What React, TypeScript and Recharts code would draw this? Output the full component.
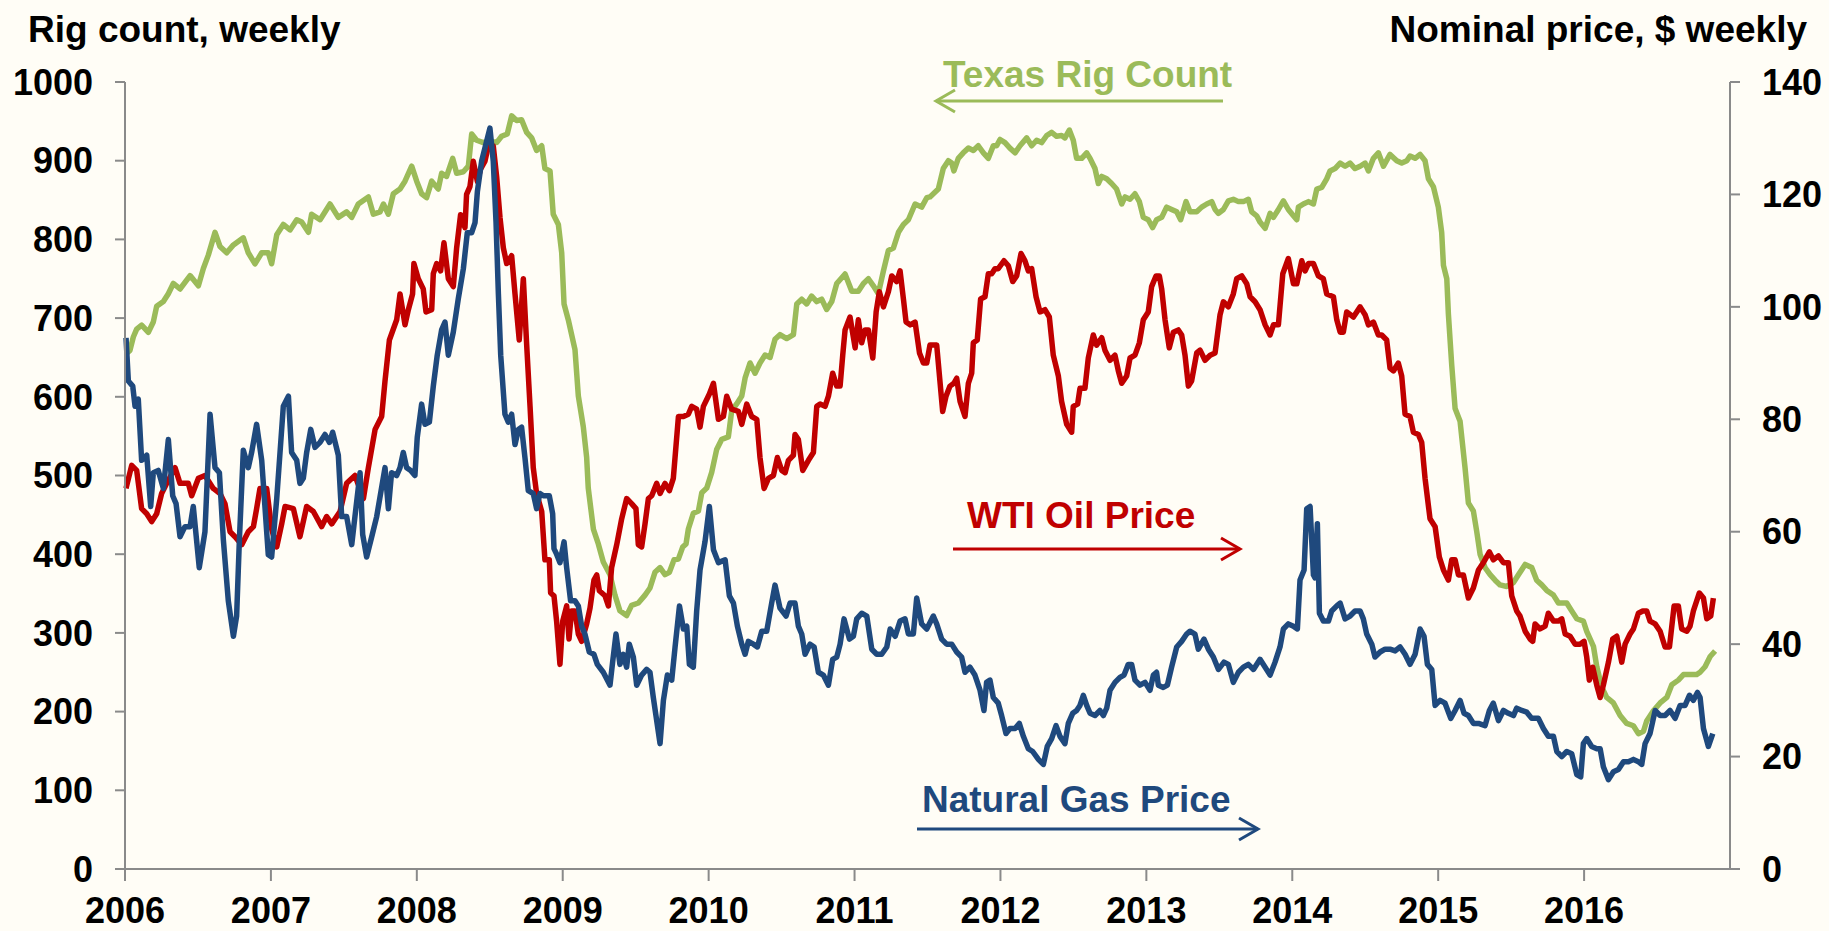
import React from "react";
import { LineChart, Line, XAxis, YAxis } from "recharts";

// ---- Data (decimal year, value) ----
// Texas rig count (left axis, rigs)
const texasRig: [number, number][] = [
  [2006.01, 655], [2006.034, 659], [2006.057, 676], [2006.08, 686], [2006.114, 691], [2006.16, 682], [2006.194, 695],
  [2006.217, 715], [2006.263, 721], [2006.297, 731], [2006.331, 744], [2006.377, 737], [2006.446, 754],
  [2006.503, 741], [2006.537, 763], [2006.571, 780], [2006.617, 809], [2006.651, 791], [2006.697, 783],
  [2006.743, 793], [2006.811, 802], [2006.845, 783], [2006.891, 769], [2006.937, 783], [2006.982, 783],
  [2007.005, 769], [2007.04, 806], [2007.085, 819], [2007.131, 812], [2007.177, 825], [2007.211, 822],
  [2007.257, 809], [2007.279, 832], [2007.337, 825], [2007.405, 845], [2007.462, 828], [2007.519, 835],
  [2007.554, 828], [2007.599, 845], [2007.668, 854], [2007.702, 832], [2007.748, 835], [2007.771, 845],
  [2007.805, 832], [2007.839, 858], [2007.885, 864], [2007.919, 874], [2007.965, 893], [2007.999, 874],
  [2008.033, 858], [2008.067, 853], [2008.102, 874], [2008.147, 864], [2008.17, 884], [2008.204, 880],
  [2008.246, 903], [2008.273, 884], [2008.319, 886], [2008.353, 893], [2008.376, 934], [2008.41, 926],
  [2008.456, 923], [2008.501, 925], [2008.547, 923], [2008.581, 931], [2008.62, 934], [2008.65, 957],
  [2008.684, 951], [2008.718, 952], [2008.753, 936], [2008.787, 929], [2008.821, 913], [2008.856, 919],
  [2008.878, 890], [2008.913, 887], [2008.935, 832], [2008.97, 819], [2008.993, 783], [2009.009, 718],
  [2009.038, 698], [2009.084, 660], [2009.107, 601], [2009.141, 562], [2009.164, 523], [2009.175, 484],
  [2009.21, 432], [2009.244, 413], [2009.278, 390], [2009.324, 374], [2009.358, 348], [2009.392, 328],
  [2009.438, 322], [2009.472, 335], [2009.518, 338], [2009.564, 348], [2009.598, 357], [2009.632, 377],
  [2009.667, 383], [2009.701, 374], [2009.731, 377], [2009.763, 393], [2009.793, 394], [2009.822, 409],
  [2009.845, 413], [2009.861, 432], [2009.895, 452], [2009.93, 455], [2009.953, 478], [2009.987, 484],
  [2010.021, 504], [2010.055, 533], [2010.09, 546], [2010.135, 549], [2010.158, 582], [2010.192, 591],
  [2010.227, 601], [2010.25, 624], [2010.284, 643], [2010.318, 630], [2010.352, 643], [2010.387, 653],
  [2010.421, 650], [2010.455, 673], [2010.489, 679], [2010.535, 674], [2010.581, 679], [2010.604, 718],
  [2010.638, 724], [2010.672, 718], [2010.706, 728], [2010.741, 721], [2010.775, 724], [2010.809, 711],
  [2010.844, 721], [2010.878, 744], [2010.935, 756], [2010.981, 734], [2011.026, 734], [2011.061, 744],
  [2011.095, 750], [2011.129, 741], [2011.163, 731], [2011.198, 760], [2011.232, 786], [2011.266, 789],
  [2011.301, 809], [2011.335, 819], [2011.369, 825], [2011.415, 845], [2011.46, 841], [2011.495, 853],
  [2011.517, 854], [2011.574, 864], [2011.608, 890], [2011.643, 900], [2011.666, 897], [2011.681, 887],
  [2011.711, 903], [2011.745, 910], [2011.78, 916], [2011.814, 913], [2011.848, 919], [2011.883, 910],
  [2011.917, 903], [2011.951, 919], [2011.974, 919], [2011.997, 927], [2012.031, 923], [2012.065, 916],
  [2012.1, 910], [2012.134, 919], [2012.18, 929], [2012.214, 919], [2012.248, 926], [2012.282, 923],
  [2012.317, 932], [2012.351, 936], [2012.385, 931], [2012.419, 932], [2012.442, 929], [2012.472, 939],
  [2012.499, 926], [2012.522, 903], [2012.557, 903], [2012.591, 910], [2012.614, 903], [2012.648, 890],
  [2012.671, 871], [2012.694, 880], [2012.728, 877], [2012.762, 871], [2012.796, 864], [2012.831, 845],
  [2012.854, 854], [2012.888, 851], [2012.922, 858], [2012.952, 848], [2012.979, 828], [2013.013, 825],
  [2013.043, 815], [2013.07, 825], [2013.105, 828], [2013.139, 841], [2013.173, 838], [2013.208, 835],
  [2013.235, 825], [2013.272, 848], [2013.299, 835], [2013.345, 835], [2013.379, 841], [2013.414, 845],
  [2013.448, 848], [2013.471, 838], [2013.494, 833], [2013.528, 838], [2013.562, 849], [2013.596, 851],
  [2013.631, 848], [2013.665, 848], [2013.699, 851], [2013.722, 835], [2013.756, 830], [2013.779, 822],
  [2013.814, 814], [2013.848, 833], [2013.871, 828], [2013.905, 838], [2013.939, 849], [2013.973, 838],
  [2014.008, 830], [2014.031, 825], [2014.042, 841], [2014.076, 845], [2014.111, 848], [2014.145, 845],
  [2014.168, 864], [2014.202, 866], [2014.236, 877], [2014.259, 887], [2014.293, 890], [2014.328, 897],
  [2014.362, 893], [2014.396, 897], [2014.43, 890], [2014.465, 893], [2014.499, 897], [2014.522, 887],
  [2014.556, 903], [2014.59, 910], [2014.625, 893], [2014.67, 908], [2014.716, 900], [2014.75, 897],
  [2014.785, 900], [2014.807, 906], [2014.842, 903], [2014.876, 908], [2014.91, 900], [2014.933, 877],
  [2014.967, 867], [2015.001, 841], [2015.024, 809], [2015.036, 767], [2015.059, 750], [2015.07, 705],
  [2015.093, 640], [2015.116, 585], [2015.15, 569], [2015.184, 510], [2015.207, 465], [2015.241, 455],
  [2015.264, 429], [2015.287, 400], [2015.321, 383], [2015.356, 374], [2015.39, 367], [2015.424, 361],
  [2015.47, 359], [2015.516, 364], [2015.55, 374], [2015.596, 387], [2015.641, 383], [2015.675, 367],
  [2015.71, 361], [2015.744, 354], [2015.79, 348], [2015.824, 338], [2015.881, 338], [2015.915, 328],
  [2015.95, 318], [2015.995, 315], [2016.018, 302], [2016.064, 283], [2016.087, 257], [2016.121, 231],
  [2016.155, 218], [2016.201, 211], [2016.247, 195], [2016.292, 185], [2016.338, 182], [2016.372, 172],
  [2016.407, 175], [2016.429, 188], [2016.475, 201], [2016.521, 211], [2016.567, 218], [2016.601, 234],
  [2016.646, 240], [2016.681, 247], [2016.726, 247], [2016.772, 247], [2016.795, 250], [2016.829, 257],
  [2016.864, 270], [2016.898, 277],
];

// WTI oil price (right axis, $ per barrel)
const wtiOil: [number, number][] = [
  [2006.007, 67.7], [2006.046, 71.8], [2006.08, 70.9], [2006.114, 64.1], [2006.149, 63.2], [2006.183, 61.8],
  [2006.217, 63.2], [2006.251, 66.8], [2006.286, 68.6], [2006.343, 71.4], [2006.377, 68.6], [2006.434, 68.6],
  [2006.457, 66.4], [2006.503, 69.5], [2006.548, 70.0], [2006.605, 67.7], [2006.651, 66.8], [2006.685, 65.0],
  [2006.72, 60.0], [2006.754, 59.1], [2006.8, 57.7], [2006.845, 60.0], [2006.88, 60.9], [2006.902, 64.1],
  [2006.925, 67.7], [2006.971, 67.7], [2007.005, 60.5], [2007.04, 57.3], [2007.074, 61.4], [2007.097, 64.5],
  [2007.154, 64.1], [2007.199, 59.1], [2007.245, 64.5], [2007.291, 63.6], [2007.348, 60.9], [2007.382, 62.7],
  [2007.417, 61.4], [2007.474, 63.6], [2007.519, 68.6], [2007.576, 70.0], [2007.634, 65.9], [2007.668, 71.4],
  [2007.714, 78.2], [2007.759, 80.5], [2007.782, 86.8], [2007.812, 94.1], [2007.862, 97.7], [2007.885, 102.3],
  [2007.919, 96.8], [2007.942, 99.5], [2007.971, 102.3], [2007.98, 107.7], [2008.01, 105.0], [2008.044, 103.2],
  [2008.063, 99.1], [2008.102, 99.5], [2008.113, 105.9], [2008.136, 107.7], [2008.163, 106.4], [2008.186, 111.4],
  [2008.216, 105.0], [2008.25, 103.6], [2008.273, 110.5], [2008.3, 116.4], [2008.33, 114.1], [2008.341, 120.0],
  [2008.364, 121.4], [2008.387, 125.9], [2008.415, 122.3], [2008.437, 124.5], [2008.467, 125.9], [2008.49, 128.6],
  [2008.524, 128.6], [2008.547, 123.2], [2008.57, 115.9], [2008.593, 110.5], [2008.616, 107.7], [2008.65, 109.1],
  [2008.673, 102.3], [2008.702, 94.1], [2008.73, 105.0], [2008.753, 93.2], [2008.776, 82.3], [2008.798, 71.4],
  [2008.821, 66.8], [2008.856, 63.6], [2008.878, 55.0], [2008.908, 55.0], [2008.917, 49.1], [2008.94, 48.6],
  [2008.958, 44.1], [2008.981, 36.4], [2009.0, 44.1], [2009.027, 46.8], [2009.043, 40.9], [2009.061, 45.9],
  [2009.084, 45.9], [2009.107, 41.8], [2009.13, 40.5], [2009.164, 43.6], [2009.187, 46.4], [2009.214, 51.4],
  [2009.233, 52.3], [2009.251, 49.5], [2009.29, 48.6], [2009.313, 46.8], [2009.335, 53.6], [2009.37, 57.7],
  [2009.404, 62.3], [2009.438, 65.9], [2009.472, 65.0], [2009.502, 64.1], [2009.518, 57.7], [2009.541, 57.3],
  [2009.564, 61.4], [2009.587, 65.9], [2009.61, 66.4], [2009.644, 68.6], [2009.667, 66.8], [2009.701, 68.6],
  [2009.731, 67.3], [2009.758, 69.5], [2009.793, 80.5], [2009.827, 80.5], [2009.861, 80.9], [2009.884, 82.3],
  [2009.918, 81.8], [2009.941, 78.6], [2009.964, 82.3], [2010.005, 84.5], [2010.033, 86.4], [2010.067, 80.0],
  [2010.101, 80.5], [2010.124, 84.1], [2010.158, 81.8], [2010.204, 81.4], [2010.227, 79.1], [2010.261, 82.7],
  [2010.295, 80.5], [2010.33, 80.0], [2010.352, 73.2], [2010.38, 67.7], [2010.41, 69.5], [2010.444, 70.0],
  [2010.471, 73.2], [2010.501, 70.9], [2010.524, 70.5], [2010.547, 72.7], [2010.581, 73.6], [2010.592, 77.3],
  [2010.615, 76.4], [2010.645, 70.9], [2010.684, 72.7], [2010.718, 74.1], [2010.741, 82.3], [2010.764, 82.7],
  [2010.798, 82.3], [2010.821, 84.1], [2010.85, 88.2], [2010.878, 85.9], [2010.901, 85.9], [2010.919, 91.4],
  [2010.935, 95.9], [2010.969, 98.2], [2011.004, 92.7], [2011.026, 97.7], [2011.049, 93.6], [2011.072, 95.9],
  [2011.095, 95.9], [2011.125, 90.9], [2011.148, 99.1], [2011.17, 102.7], [2011.198, 100.0], [2011.232, 102.7],
  [2011.255, 105.5], [2011.289, 104.5], [2011.312, 106.4], [2011.335, 101.4], [2011.353, 97.3], [2011.381, 96.8],
  [2011.415, 97.3], [2011.445, 91.8], [2011.472, 90.0], [2011.495, 90.0], [2011.517, 93.2], [2011.563, 93.2],
  [2011.604, 81.4], [2011.627, 84.1], [2011.654, 85.9], [2011.681, 86.4], [2011.7, 87.3], [2011.723, 83.2],
  [2011.757, 80.5], [2011.78, 86.4], [2011.803, 88.2], [2011.814, 93.6], [2011.841, 94.1], [2011.864, 101.4],
  [2011.894, 101.8], [2011.917, 105.9], [2011.94, 105.9], [2011.963, 106.8], [2011.985, 106.8], [2012.024, 108.2],
  [2012.054, 107.3], [2012.084, 104.5], [2012.111, 105.5], [2012.141, 109.5], [2012.168, 108.2], [2012.191, 106.4],
  [2012.214, 106.8], [2012.244, 101.8], [2012.271, 99.1], [2012.305, 99.5], [2012.335, 98.2], [2012.362, 91.4],
  [2012.397, 87.7], [2012.419, 83.2], [2012.454, 79.1], [2012.488, 77.7], [2012.499, 82.3], [2012.529, 82.7],
  [2012.545, 85.5], [2012.579, 85.5], [2012.602, 90.9], [2012.636, 95.0], [2012.659, 93.2], [2012.694, 94.5],
  [2012.716, 92.3], [2012.751, 90.5], [2012.785, 91.4], [2012.808, 88.6], [2012.831, 86.4], [2012.865, 87.7],
  [2012.888, 90.9], [2012.922, 91.4], [2012.952, 93.6], [2012.979, 97.7], [2013.013, 99.1], [2013.036, 103.6],
  [2013.066, 105.5], [2013.089, 105.5], [2013.105, 103.2], [2013.128, 97.7], [2013.157, 92.7], [2013.185, 95.5],
  [2013.219, 95.9], [2013.242, 95.0], [2013.265, 91.4], [2013.288, 85.9], [2013.31, 86.8], [2013.345, 91.8],
  [2013.368, 92.3], [2013.402, 90.5], [2013.437, 91.4], [2013.471, 91.8], [2013.505, 98.6], [2013.528, 100.9],
  [2013.562, 100.0], [2013.596, 102.3], [2013.619, 105.0], [2013.654, 105.5], [2013.688, 104.1], [2013.711, 101.8],
  [2013.745, 100.9], [2013.779, 99.5], [2013.814, 96.8], [2013.848, 95.0], [2013.871, 96.8], [2013.905, 96.8],
  [2013.935, 105.9], [2013.973, 108.6], [2014.008, 104.1], [2014.031, 104.1], [2014.065, 108.2], [2014.088, 106.4],
  [2014.111, 107.7], [2014.145, 107.7], [2014.179, 105.5], [2014.213, 105.0], [2014.236, 102.3], [2014.282, 101.8],
  [2014.305, 97.7], [2014.328, 95.5], [2014.35, 95.5], [2014.373, 99.1], [2014.419, 98.2], [2014.465, 100.0],
  [2014.499, 98.6], [2014.522, 96.8], [2014.556, 97.3], [2014.59, 95.0], [2014.613, 95.0], [2014.647, 94.1],
  [2014.67, 89.1], [2014.693, 88.6], [2014.727, 90.0], [2014.75, 87.7], [2014.773, 80.9], [2014.807, 80.5],
  [2014.83, 77.7], [2014.864, 77.3], [2014.887, 75.9], [2014.91, 69.5], [2014.944, 62.3], [2014.979, 60.9],
  [2015.008, 55.5], [2015.036, 53.2], [2015.07, 51.4], [2015.093, 55.0], [2015.116, 55.0], [2015.139, 52.3],
  [2015.173, 52.3], [2015.207, 48.2], [2015.241, 50.0], [2015.276, 53.2], [2015.31, 54.5], [2015.351, 56.4],
  [2015.378, 55.0], [2015.413, 55.7], [2015.447, 54.5], [2015.481, 54.5], [2015.504, 48.6], [2015.538, 45.9],
  [2015.561, 45.0], [2015.596, 42.3], [2015.63, 40.9], [2015.648, 40.5], [2015.664, 43.6], [2015.698, 42.7],
  [2015.733, 43.2], [2015.755, 45.5], [2015.79, 44.1], [2015.824, 44.1], [2015.847, 44.5], [2015.87, 41.8],
  [2015.904, 41.4], [2015.938, 40.0], [2015.972, 40.0], [2016.0, 40.5], [2016.018, 37.7], [2016.036, 33.6],
  [2016.059, 35.9], [2016.087, 32.7], [2016.11, 30.5], [2016.132, 32.7], [2016.167, 36.8], [2016.196, 40.9],
  [2016.224, 41.4], [2016.258, 36.8], [2016.281, 40.0], [2016.315, 41.8], [2016.338, 42.7], [2016.372, 45.5],
  [2016.402, 45.9], [2016.429, 45.9], [2016.452, 44.1], [2016.487, 43.6], [2016.521, 42.3], [2016.555, 39.5],
  [2016.585, 39.5], [2016.617, 46.8], [2016.646, 46.8], [2016.669, 42.7], [2016.704, 42.3], [2016.726, 43.2],
  [2016.749, 45.9], [2016.79, 49.1], [2016.818, 48.2], [2016.841, 44.5], [2016.868, 45.0], [2016.886, 48.2],
];

// Natural gas price (right axis, plotted as $/MMBtu x 10)
const natGas: [number, number][] = [
  [2006.007, 94.5], [2006.023, 86.8], [2006.053, 85.9], [2006.069, 82.3], [2006.091, 83.6], [2006.114, 72.7],
  [2006.149, 73.6], [2006.176, 64.5], [2006.194, 70.5], [2006.228, 70.9], [2006.263, 67.7], [2006.297, 76.4],
  [2006.327, 66.4], [2006.35, 65.0], [2006.377, 59.1], [2006.411, 60.9], [2006.446, 60.9], [2006.468, 64.5],
  [2006.509, 53.6], [2006.548, 60.0], [2006.583, 80.9], [2006.617, 71.4], [2006.647, 70.5], [2006.674, 58.6],
  [2006.708, 47.7], [2006.743, 41.4], [2006.765, 45.0], [2006.784, 58.6], [2006.811, 74.5], [2006.845, 71.4],
  [2006.868, 74.1], [2006.902, 79.1], [2006.937, 72.7], [2006.982, 55.9], [2007.005, 55.5], [2007.04, 65.9],
  [2007.085, 82.3], [2007.12, 84.1], [2007.142, 74.1], [2007.177, 72.7], [2007.199, 68.6], [2007.222, 69.5],
  [2007.245, 74.1], [2007.273, 78.2], [2007.302, 75.0], [2007.337, 75.9], [2007.371, 77.3], [2007.401, 75.9],
  [2007.423, 77.7], [2007.462, 73.6], [2007.485, 62.7], [2007.519, 62.7], [2007.554, 57.7], [2007.576, 62.7],
  [2007.611, 70.5], [2007.629, 59.5], [2007.656, 55.5], [2007.691, 59.1], [2007.725, 62.7], [2007.782, 71.4],
  [2007.805, 64.1], [2007.827, 70.5], [2007.862, 70.0], [2007.885, 71.4], [2007.907, 74.1], [2007.93, 71.4],
  [2007.958, 70.9], [2007.987, 70.0], [2008.003, 76.8], [2008.033, 82.7], [2008.056, 79.1], [2008.086, 79.5],
  [2008.113, 85.9], [2008.14, 91.4], [2008.17, 95.9], [2008.193, 97.3], [2008.216, 91.4], [2008.25, 95.5],
  [2008.284, 101.4], [2008.319, 106.8], [2008.346, 113.2], [2008.376, 113.2], [2008.399, 115.0], [2008.415, 120.5],
  [2008.444, 125.9], [2008.479, 129.5], [2008.501, 131.8], [2008.524, 125.9], [2008.543, 115.0], [2008.559, 102.3],
  [2008.575, 91.4], [2008.604, 80.9], [2008.627, 79.5], [2008.65, 80.9], [2008.673, 75.5], [2008.696, 78.2],
  [2008.718, 78.6], [2008.741, 73.2], [2008.764, 67.3], [2008.798, 66.8], [2008.821, 64.1], [2008.844, 66.8],
  [2008.867, 66.4], [2008.908, 66.4], [2008.931, 63.2], [2008.94, 57.0], [2008.958, 56.0], [2008.981, 54.5],
  [2009.009, 58.2], [2009.027, 53.6], [2009.054, 47.7], [2009.084, 47.7], [2009.107, 46.8], [2009.13, 43.2],
  [2009.152, 41.8], [2009.182, 38.6], [2009.214, 38.2], [2009.237, 36.4], [2009.278, 35.0], [2009.324, 32.7],
  [2009.342, 36.8], [2009.365, 41.8], [2009.392, 36.4], [2009.415, 38.2], [2009.438, 35.9], [2009.456, 40.0],
  [2009.484, 37.7], [2009.507, 32.7], [2009.541, 34.5], [2009.575, 35.5], [2009.598, 35.0], [2009.621, 30.5],
  [2009.644, 26.4], [2009.667, 22.3], [2009.69, 30.0], [2009.717, 34.5], [2009.747, 33.6], [2009.77, 39.5],
  [2009.8, 46.8], [2009.827, 42.7], [2009.85, 43.2], [2009.868, 36.4], [2009.895, 35.9], [2009.918, 45.9],
  [2009.941, 53.2], [2009.975, 58.2], [2010.005, 64.5], [2010.033, 56.8], [2010.067, 54.5], [2010.113, 55.0],
  [2010.142, 48.6], [2010.17, 47.3], [2010.197, 43.2], [2010.227, 40.0], [2010.25, 38.2], [2010.272, 40.5],
  [2010.307, 40.0], [2010.334, 39.5], [2010.364, 42.3], [2010.398, 42.3], [2010.432, 47.3], [2010.455, 50.5],
  [2010.489, 46.4], [2010.531, 45.0], [2010.558, 47.3], [2010.592, 47.3], [2010.615, 43.2], [2010.638, 41.8],
  [2010.661, 38.2], [2010.695, 40.0], [2010.723, 39.5], [2010.752, 35.0], [2010.786, 34.5], [2010.821, 32.7],
  [2010.85, 37.3], [2010.878, 37.7], [2010.901, 40.0], [2010.928, 44.5], [2010.965, 40.9], [2010.992, 41.4],
  [2011.015, 44.5], [2011.049, 45.5], [2011.084, 45.0], [2011.118, 39.1], [2011.152, 38.2], [2011.186, 38.2],
  [2011.221, 39.5], [2011.244, 42.7], [2011.278, 41.4], [2011.312, 44.1], [2011.346, 44.5], [2011.369, 41.8],
  [2011.403, 41.8], [2011.426, 48.2], [2011.46, 43.6], [2011.495, 42.7], [2011.54, 45.0], [2011.563, 43.6],
  [2011.597, 40.9], [2011.631, 40.0], [2011.666, 40.0], [2011.7, 38.6], [2011.734, 37.7], [2011.757, 35.0],
  [2011.791, 35.9], [2011.825, 34.5], [2011.86, 31.8], [2011.887, 28.2], [2011.905, 33.2], [2011.928, 33.6],
  [2011.951, 30.5], [2011.985, 29.5], [2012.008, 27.3], [2012.038, 24.1], [2012.065, 25.0], [2012.1, 25.0],
  [2012.129, 25.9], [2012.157, 23.6], [2012.191, 21.4], [2012.221, 20.9], [2012.26, 19.5], [2012.294, 18.6],
  [2012.321, 21.8], [2012.351, 23.2], [2012.381, 25.5], [2012.408, 23.6], [2012.442, 22.3], [2012.465, 25.9],
  [2012.495, 27.7], [2012.522, 28.2], [2012.545, 29.1], [2012.568, 30.9], [2012.591, 29.1], [2012.614, 27.7],
  [2012.648, 27.3], [2012.682, 28.2], [2012.705, 27.3], [2012.728, 28.6], [2012.751, 31.8], [2012.785, 33.2],
  [2012.819, 34.1], [2012.847, 34.5], [2012.876, 36.4], [2012.899, 36.4], [2012.922, 33.6], [2012.956, 32.7],
  [2012.991, 33.2], [2013.025, 31.8], [2013.048, 34.5], [2013.07, 35.0], [2013.082, 32.7], [2013.116, 32.3],
  [2013.144, 32.7], [2013.173, 35.9], [2013.208, 39.5], [2013.242, 40.5], [2013.276, 41.8], [2013.299, 42.3],
  [2013.333, 41.8], [2013.356, 39.1], [2013.395, 40.9], [2013.425, 39.1], [2013.459, 37.7], [2013.494, 35.5],
  [2013.532, 36.8], [2013.562, 36.4], [2013.596, 33.2], [2013.631, 35.0], [2013.665, 35.9], [2013.699, 36.4],
  [2013.734, 35.5], [2013.779, 37.3], [2013.814, 35.9], [2013.848, 34.5], [2013.882, 36.8], [2013.916, 39.5],
  [2013.939, 42.7], [2013.973, 43.6], [2014.008, 43.2], [2014.035, 42.7], [2014.053, 51.4], [2014.081, 53.2],
  [2014.099, 64.1], [2014.122, 64.5], [2014.145, 52.3], [2014.156, 51.8], [2014.172, 61.4], [2014.186, 45.5],
  [2014.213, 44.1], [2014.248, 44.1], [2014.27, 45.9], [2014.305, 46.8], [2014.328, 47.3], [2014.362, 44.5],
  [2014.396, 45.0], [2014.43, 45.9], [2014.465, 45.9], [2014.487, 44.5], [2014.51, 41.8], [2014.545, 40.0],
  [2014.567, 37.7], [2014.602, 38.6], [2014.636, 39.1], [2014.67, 39.1], [2014.705, 38.8], [2014.739, 39.5],
  [2014.773, 38.2], [2014.807, 36.4], [2014.842, 38.2], [2014.876, 42.7], [2014.903, 41.4], [2014.926, 36.4],
  [2014.956, 35.5], [2014.979, 29.1], [2015.013, 30.0], [2015.047, 29.5], [2015.086, 26.8], [2015.116, 28.2],
  [2015.15, 30.0], [2015.177, 27.7], [2015.207, 27.3], [2015.241, 25.9], [2015.276, 25.9], [2015.321, 25.5],
  [2015.351, 28.2], [2015.378, 29.5], [2015.413, 26.4], [2015.447, 28.2], [2015.481, 27.7], [2015.516, 27.3],
  [2015.538, 28.6], [2015.573, 28.2], [2015.607, 27.9], [2015.641, 26.8], [2015.687, 26.8], [2015.721, 25.0],
  [2015.755, 23.6], [2015.79, 23.6], [2015.813, 20.9], [2015.847, 20.0], [2015.881, 20.9], [2015.915, 20.5],
  [2015.95, 16.8], [2015.977, 16.4], [2015.995, 22.3], [2016.018, 23.2], [2016.052, 21.8], [2016.087, 21.4],
  [2016.11, 21.4], [2016.132, 18.2], [2016.167, 15.9], [2016.201, 17.3], [2016.235, 17.7], [2016.27, 19.1],
  [2016.304, 19.1], [2016.338, 19.5], [2016.372, 19.1], [2016.395, 18.6], [2016.418, 22.3], [2016.452, 24.1],
  [2016.487, 28.2], [2016.521, 27.3], [2016.555, 27.3], [2016.589, 28.2], [2016.624, 26.8], [2016.658, 29.1],
  [2016.692, 29.1], [2016.722, 30.9], [2016.749, 30.0], [2016.777, 31.4], [2016.795, 30.5], [2016.818, 25.0],
  [2016.852, 21.8], [2016.882, 24.1],
];

const yearTicks = [2006, 2007, 2008, 2009, 2010, 2011, 2012, 2013, 2014, 2015, 2016];
const rigTicks = [0, 100, 200, 300, 400, 500, 600, 700, 800, 900, 1000];
const priceTicks = [0, 20, 40, 60, 80, 100, 120, 140];

const leftTitle = "Rig count, weekly";
const rightTitle = "Nominal price, $ weekly";
const rigLabel = "Texas Rig Count";
const oilLabel = "WTI Oil Price";
const gasLabel = "Natural Gas Price";

// ---- Styles ----
const BG = "#FFFDF6";
const GREEN = "#9BBB59";
const RED = "#C00000";
const BLUE = "#1F497D";
const AXIS = "#8A8A8A";
const FONT = "'Liberation Sans', Arial, Helvetica, sans-serif";

const toPoints = (arr: [number, number][]) => arr.map(([t, v]) => ({ t, v }));
const rigData = toPoints(texasRig);
const oilData = toPoints(wtiOil);
const gasData = toPoints(natGas);

const tickStyle = { fill: "#000", fontSize: 36, fontWeight: 700, fontFamily: FONT };
const axisLineStyle = { stroke: AXIS, strokeWidth: 2 };
const LW = 5.5;

export default function App() {
  return (
    <div style={{ position: "absolute", left: 0, top: 0, width: 1829, height: 931, background: BG, overflow: "hidden" }}>
      <LineChart width={1829} height={931} margin={{ top: 82, right: 0, bottom: 0, left: 0 }}>
        <XAxis
          dataKey="t"
          type="number"
          domain={[2006, 2017]}
          ticks={yearTicks}
          interval={0}
          allowDuplicatedCategory={false}
          height={62}
          tickSize={12}
          tickMargin={16}
          axisLine={axisLineStyle}
          tickLine={axisLineStyle}
          tick={tickStyle}
        />
        <YAxis
          yAxisId="left"
          domain={[0, 1000]}
          ticks={rigTicks}
          interval={0}
          width={125}
          tickSize={10}
          tickMargin={22}
          axisLine={axisLineStyle}
          tickLine={axisLineStyle}
          tick={tickStyle}
        />
        <YAxis
          yAxisId="right"
          orientation="right"
          domain={[0, 140]}
          ticks={priceTicks}
          interval={0}
          width={99}
          tickSize={10}
          tickMargin={22}
          axisLine={axisLineStyle}
          tickLine={axisLineStyle}
          tick={tickStyle}
        />
        <Line yAxisId="left" data={rigData} dataKey="v" stroke={GREEN} strokeWidth={LW} dot={false} isAnimationActive={false} strokeLinejoin="round" />
        <Line yAxisId="right" data={oilData} dataKey="v" stroke={RED} strokeWidth={LW} dot={false} isAnimationActive={false} strokeLinejoin="round" />
        <Line yAxisId="right" data={gasData} dataKey="v" stroke={BLUE} strokeWidth={LW} dot={false} isAnimationActive={false} strokeLinejoin="round" />
      </LineChart>
      <svg width={1829} height={931} style={{ position: "absolute", left: 0, top: 0, pointerEvents: "none" }}>
        <g fontFamily={FONT} fontWeight={700} fontSize={37}>
          <text x={28} y={42} fill="#000">{leftTitle}</text>
          <text x={1807} y={42} fill="#000" textAnchor="end">{rightTitle}</text>

          <text x={943} y={87} fill={GREEN}>{rigLabel}</text>
          <line x1={936} y1={101} x2={1223} y2={101} stroke={GREEN} strokeWidth={3} />
          <polyline points="955,90 936,101 955,112" fill="none" stroke={GREEN} strokeWidth={3} />

          <text x={967} y={528} fill={RED}>{oilLabel}</text>
          <line x1={953} y1={549} x2={1240} y2={549} stroke={RED} strokeWidth={3} />
          <polyline points="1221,538 1240,549 1221,560" fill="none" stroke={RED} strokeWidth={3} />

          <text x={922} y={812} fill={BLUE}>{gasLabel}</text>
          <line x1={917} y1={829} x2={1258} y2={829} stroke={BLUE} strokeWidth={3} />
          <polyline points="1239,818 1258,829 1239,840" fill="none" stroke={BLUE} strokeWidth={3} />
        </g>
      </svg>
    </div>
  );
}
